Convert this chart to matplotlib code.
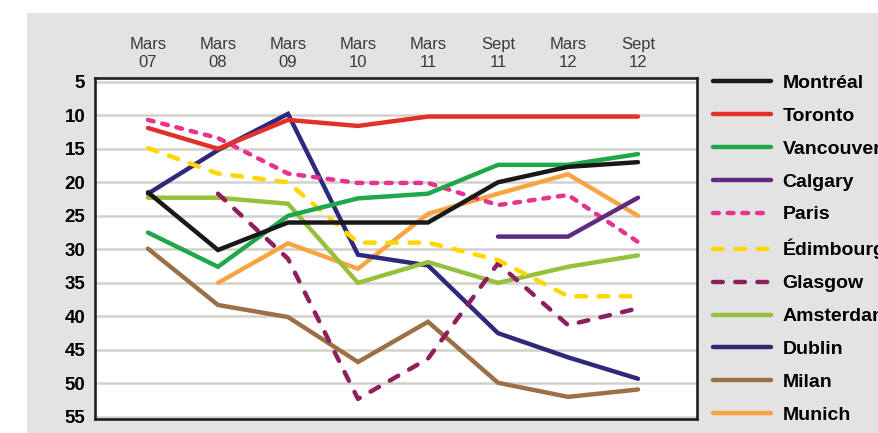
import numpy as np
import matplotlib
matplotlib.use("Agg")
import matplotlib.pyplot as plt
from matplotlib.patches import Rectangle

plt.rcParams['font.family'] = ['Liberation Sans', 'DejaVu Sans']

periods = ["Mars\n07", "Mars\n08", "Mars\n09", "Mars\n10", "Mars\n11",
           "Sept\n11", "Mars\n12", "Sept\n12"]
nan = np.nan

cities = ["Montréal", "Toronto", "Vancouver", "Calgary", "Paris", "Édimbourg",
          "Glasgow", "Amsterdam", "Dublin", "Milan", "Munich"]

montreal = [21.5, 30.1, 26.0, 26.0, 26.0, 20.0, 17.7, 17.0]
toronto = [11.9, 15.0, 10.7, 11.6, 10.2, 10.2, 10.2, 10.2]
vancouver = [27.5, 32.6, 25.0, 22.4, 21.7, 17.4, 17.4, 15.8]
calgary = [nan, nan, nan, nan, nan, 28.1, 28.1, 22.3]
paris = [10.7, 13.4, 18.7, 20.1, 20.1, 23.4, 21.9, 28.9]
edimbourg = [14.9, 18.7, 20.0, 29.0, 29.0, 31.6, 37.0, 37.0]
glasgow = [nan, 21.7, 31.4, 52.3, 46.3, 32.1, 41.3, 38.8]
amsterdam = [22.3, 22.3, 23.2, 35.0, 31.9, 35.0, 32.6, 30.9]
dublin = [21.7, 15.2, 9.8, 30.8, 32.4, 42.5, 46.1, 49.3]
milan = [29.9, 38.3, 40.1, 46.8, 40.8, 49.9, 52.0, 50.9]
munich = [nan, 35.0, 29.1, 32.9, 24.7, 21.7, 18.8, 25.0]

series = [montreal, toronto, vancouver, calgary, paris, edimbourg,
          glasgow, amsterdam, dublin, milan, munich]
colors = ["#1b1819", "#e2302a", "#20a64b", "#5f2b7f", "#e6338b", "#fdd700",
          "#8f1f5c", "#95c13d", "#2d2a7b", "#9c7047", "#f7a443"]
styles = ["-", "-", "-", "-", (0, (1.3, 2.0)), (0, (2.2, 2.8)),
          (0, (2.2, 2.8)), "-", "-", "-", "-"]

fig = plt.figure(figsize=(8.79, 4.33), dpi=100)
fig.patches.append(Rectangle((27 / 879, 0), 1, 1 - 13 / 433, transform=fig.transFigure,
                             facecolor="#e3e3e3", edgecolor="none", zorder=-10))
ax = fig.add_axes([95 / 879, 1 - 419 / 433, 602 / 879, 341 / 433])
ax.set_facecolor("white")

x = np.arange(len(periods))
handles = {}
for i in reversed(range(len(cities))):
    ln, = ax.plot(x, series[i], color=colors[i], lw=3.2, linestyle=styles[i],
                  solid_capstyle="round", dash_capstyle="round",
                  solid_joinstyle="miter", label=cities[i], zorder=3)
    handles[cities[i]] = ln

ax.set_xlim(-0.757, 7.843)
ax.set_ylim(55.3, 4.45)
ax.set_yticks(range(5, 56, 5))
ax.yaxis.grid(True, color="#d4d1cd", lw=1.8, zorder=1)
ax.set_axisbelow(True)

ax.set_xticks(x)
ax.set_xticklabels(periods, fontsize=12, color="#3a3a3a", linespacing=1.2)
ax.xaxis.tick_top()
ax.tick_params(axis="x", length=0, pad=6)
ax.tick_params(axis="y", length=0, pad=7, labelsize=13.5)
for lab in ax.get_yticklabels():
    lab.set_fontweight("bold")

for s in ax.spines.values():
    s.set_linewidth(1.9)
    s.set_color("#231f20")

fig.legend([handles[c] for c in cities], cities, loc="upper left",
           bbox_to_anchor=(713 / 879, 1 - 74 / 433), frameon=False,
           borderaxespad=0, borderpad=0, handlelength=3.0, handletextpad=0.57,
           labelspacing=0.79, prop={"weight": "bold", "size": 14})

fig.savefig("out.png", dpi=100, facecolor="white")
